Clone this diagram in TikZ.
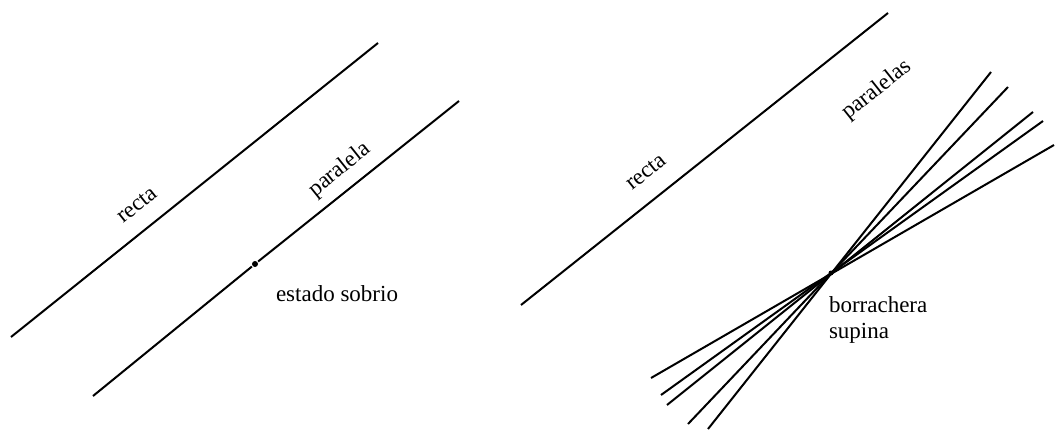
\documentclass[tikz,border=0pt]{standalone}
\usepackage{fontspec}
\setmainfont{Liberation Serif}
\begin{document}
\begin{tikzpicture}[x=1pt,y=-1pt,line width=2pt,
  every node/.style={inner sep=0pt,font=\fontsize{23}{26}\selectfont},
  lbl/.style={rotate=38.6},
  dot/.style={fill,circle,minimum size=6pt,inner sep=0pt}]
  \useasboundingbox (0,0) rectangle (1055,429);

  % estado sobrio
  \coordinate (rA1) at ( 11,337);
  \coordinate (rA2) at (378, 43);
  \coordinate (pA1) at ( 93,396);
  \coordinate (pA2) at (459,101);
  \draw (255,264) node[dot](S) {};

  \draw (137,205) node[lbl](rectaA)    {recta};
  \draw (340,170) node[lbl](paralela)  {paralela};
  \draw (275,301) node[anchor=base west](sobrio) {estado sobrio};

  \path[draw] (rA1) -- (rA2);
  \path[draw] (pA1) -- (S);
  \path[draw] (S) -- (pA2);

  % borrachera supina
  \coordinate (rB1) at (521,305);
  \coordinate (rB2) at (888, 13);
  \draw (831,273) node[dot,minimum size=5pt](B) {};

  \coordinate (a1) at ( 991, 72);  \coordinate (a2) at (708,429);
  \coordinate (b1) at (1008, 87);  \coordinate (b2) at (688,424);
  \coordinate (c1) at (1033,112);  \coordinate (c2) at (667,405);
  \coordinate (d1) at (1043,121);  \coordinate (d2) at (661,395);
  \coordinate (e1) at (1054,145);  \coordinate (e2) at (651,378);

  \draw (646,172) node[lbl](rectaB)    {recta};
  \draw (877,90)  node[lbl](paralelas) {paralelas};
  \draw (828,296) node[anchor=north west,align=left](supina) {borrachera\\supina};

  \path[draw] (rB1) -- (rB2);

  \path[draw] (a1) -- (a2);
  \path[draw] (b1) -- (b2);
  \path[draw] (c1) -- (c2);
  \path[draw] (d1) -- (d2);
  \path[draw] (e1) -- (e2);

\end{tikzpicture}
\end{document}
